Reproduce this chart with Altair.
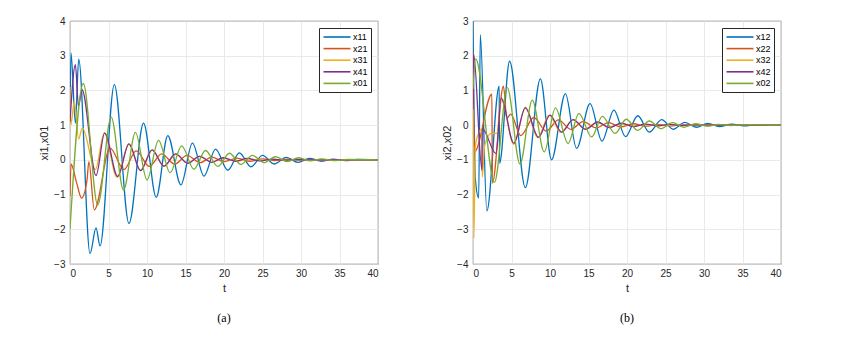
import altair as alt
import pandas as pd

# ---------------- Panel (a) : xi1, x01 ----------------
X11_T = [0, 0.13, 0.7, 1.13, 2.6, 3.38, 3.9, 5.76, 7.66, 9.55, 11.2, 12.7, 14.4, 15.9, 17.4, 18.9, 20.5, 22.0, 23.5, 25.0, 26.5, 28.1, 29.6, 31.1, 32.7, 34.2, 35.8, 37.3, 40]
X11_V = [1.2, 3.08, 1.06, 2.9, -2.7, -1.96, -2.48, 2.17, -1.83, 1.06, -1.08, 0.7, -0.72, 0.48, -0.47, 0.31, -0.3, 0.2, -0.2, 0.13, -0.12, 0.07, -0.07, 0.04, -0.04, 0.02, -0.02, 0.01, 0]

X21_T = [0, 0.13, 0.87, 1.5, 2.2, 2.45, 3.16, 5.2, 7.0, 8.6, 10.3, 11.9, 13.6, 15.2, 16.9, 18.4, 20.0, 21.7, 23.3, 25.0, 26.6, 28.3, 30.0, 31.6, 33.3, 35.0, 40]
X21_V = [-1.05, -0.12, -0.67, -1.1, -0.6, -0.05, -1.44, 0.34, -0.28, 0.26, -0.19, 0.17, -0.12, 0.13, -0.08, 0.08, -0.05, 0.05, -0.04, 0.03, -0.02, 0.02, -0.01, 0.01, -0.01, 0, 0]

X31_T = [0, 0.1, 0.56, 1.13, 1.6, 3.3, 4.45, 6.1, 7.65, 9.2, 10.7, 12.2, 13.8, 15.3, 16.9, 18.4, 20.0, 21.6, 23.2, 24.8, 26.4, 28.0, 30.0, 32.0, 40]
X31_V = [2.1, 1.0, 1.68, 0.6, 0.92, -0.28, 0.78, -0.5, 0.45, -0.31, 0.28, -0.18, 0.16, -0.1, 0.1, -0.07, 0.05, -0.04, 0.03, -0.02, 0.02, -0.01, 0.01, 0, 0]

X41_T = [0, 0.7, 1.1, 1.56, 3.38, 4.5, 6.2, 7.65, 9.15, 10.65, 12.2, 13.7, 15.3, 16.8, 18.4, 19.9, 21.5, 23.0, 24.6, 26.2, 27.8, 29.4, 31.0, 33.0, 40]
X41_V = [1.1, 2.74, 1.55, 2.02, -0.45, 0.77, -0.48, 0.46, -0.31, 0.29, -0.18, 0.17, -0.1, 0.1, -0.07, 0.06, -0.04, 0.04, -0.03, 0.02, -0.01, 0.01, 0, 0, 0]

X01_T = [0, 1.73, 3.6, 5.35, 6.95, 8.5, 10.0, 11.5, 13.0, 14.5, 16.1, 17.6, 19.2, 20.7, 22.2, 23.7, 25.2, 26.7, 28.2, 29.7, 31.2, 32.7, 34.2, 36.0, 40]
X01_V = [-2.0, 2.2, -1.3, 1.23, -0.87, 0.79, -0.58, 0.56, -0.37, 0.4, -0.27, 0.27, -0.19, 0.19, -0.13, 0.13, -0.08, 0.09, -0.05, 0.06, -0.03, 0.03, -0.02, 0.01, 0]

# ---------------- Panel (b) : xi2, x02 ----------------
X12_T = [0, 0.3, 0.74, 0.95, 1.8, 3.4, 3.45, 4.75, 6.8, 8.75, 10.2, 12.0, 13.45, 15.2, 16.75, 18.3, 19.8, 21.4, 22.9, 24.5, 26.0, 27.5, 29.0, 30.5, 32.0, 33.6, 35.2, 36.8, 40]
X12_V = [3.0, -1.53, -2.1, 2.6, -2.47, 1.12, -1.1, 1.84, -1.8, 1.33, -1.0, 0.91, -0.67, 0.62, -0.46, 0.43, -0.33, 0.27, -0.2, 0.16, -0.12, 0.08, -0.06, 0.05, -0.04, 0.03, -0.02, 0.01, 0]

X22_T = [0, 0.2, 2.45, 2.52, 3.95, 4.4, 4.9, 6.2, 7.9, 9.5, 11.1, 12.7, 14.3, 16.0, 17.6, 19.2, 20.8, 22.4, 24.0, 25.6, 27.2, 28.8, 30.5, 32.0, 34.0, 40]
X22_V = [2.1, -0.77, 0.89, -1.67, 1.12, 0.2, 0.32, -0.3, 0.22, -0.17, 0.15, -0.12, 0.1, -0.08, 0.07, -0.05, 0.04, -0.03, 0.02, -0.02, 0.01, -0.01, 0.01, 0, 0, 0]

X32_T = [0, 0.12, 0.3, 0.8, 1.15, 1.2, 1.5, 2.4, 3.1, 3.65, 5.3, 6.8, 8.4, 9.9, 11.4, 13.0, 14.5, 16.1, 17.6, 19.2, 20.8, 22.3, 24.0, 26.0, 28.0, 40]
X32_V = [0.6, -3.25, -0.6, -0.2, -0.1, -1.5, -0.6, -0.24, -0.24, 0.75, -0.55, 0.52, -0.36, 0.29, -0.21, 0.15, -0.11, 0.08, -0.06, 0.04, -0.03, 0.02, -0.01, 0, 0, 0]

X42_T = [0, 0.08, 1.17, 1.2, 3.0, 3.65, 5.3, 6.8, 8.5, 10.0, 11.5, 13.0, 14.6, 16.2, 17.7, 19.3, 20.8, 22.4, 24.0, 25.5, 27.0, 28.6, 30.2, 32.0, 34.0, 40]
X42_V = [0.45, 2.05, -1.3, -0.1, -0.82, 0.78, -0.52, 0.5, -0.35, 0.29, -0.2, 0.16, -0.12, 0.09, -0.07, 0.06, -0.04, 0.03, -0.02, 0.02, -0.01, 0.01, 0, 0, 0, 0]

X02_T = [0, 0.35, 2.8, 4.45, 6.1, 7.7, 9.25, 10.7, 12.35, 13.75, 15.4, 16.8, 18.45, 19.9, 21.4, 22.9, 24.4, 25.9, 27.4, 28.9, 30.4, 31.9, 33.5, 35.0, 40]
X02_V = [1.05, 1.91, -1.64, 1.08, -1.12, 0.72, -0.77, 0.5, -0.53, 0.34, -0.34, 0.25, -0.24, 0.17, -0.15, 0.12, -0.1, 0.07, -0.06, 0.04, -0.03, 0.02, -0.01, 0.01, 0]

SERIES_A = ["x11", "x21", "x31", "x41", "x01"]
SERIES_B = ["x12", "x22", "x32", "x42", "x02"]
COLORS = ["#0072BD", "#D95319", "#EDB120", "#7E2F8E", "#77AC30"]
X_TICKS = [0, 5, 10, 15, 20, 25, 30, 35, 40]
Y_TICKS_A = [-3, -2, -1, 0, 1, 2, 3, 4]
Y_TICKS_B = [-4, -3, -2, -1, 0, 1, 2, 3]


def frame(names, pairs):
    rows = []
    for name, (ts, vs) in zip(names, pairs):
        for t, v in zip(ts, vs):
            rows.append({"t": t, "v": v, "series": name})
    return pd.DataFrame(rows)


df_a = frame(SERIES_A, [(X11_T, X11_V), (X21_T, X21_V), (X31_T, X31_V), (X41_T, X41_V), (X01_T, X01_V)])
df_b = frame(SERIES_B, [(X12_T, X12_V), (X22_T, X22_V), (X32_T, X32_V), (X42_T, X42_V), (X02_T, X02_V)])

FONT = "Liberation Sans"
LEG_SYMBOL = "M-2.7,0L2.7,0"


def panel(df, names, ytitle, ydom, yticks, caption):
    return alt.Chart(df).mark_line(interpolate="monotone", strokeWidth=1.3, clip=True).encode(
        x=alt.X("t:Q", scale=alt.Scale(domain=[0, 40], nice=False, zero=False),
                axis=alt.Axis(values=X_TICKS, title="t", format="d")),
        y=alt.Y("v:Q", scale=alt.Scale(domain=ydom, nice=False, zero=False),
                axis=alt.Axis(values=yticks, title=ytitle, format="d")),
        color=alt.Color("series:N", sort=names,
                        scale=alt.Scale(domain=names, range=COLORS),
                        legend=alt.Legend(title=None, orient="top-right", offset=7,
                                          symbolType=LEG_SYMBOL, symbolSize=100,
                                          symbolStrokeWidth=1.6, symbolOffset=9,
                                          labelFont=FONT, labelFontSize=9, labelColor="#000000",
                                          strokeColor="#262626", fillColor="#ffffff",
                                          padding=3, rowPadding=0.6, labelOffset=10)),
        detail="series:N",
    ).properties(
        width=308, height=243,
        title=alt.TitleParams(caption, orient="bottom", font="Liberation Serif",
                              fontSize=12, fontWeight="normal", color="#000000", offset=20),
    )


pa = panel(df_a, SERIES_A, "xi1,x01", [-3, 4], Y_TICKS_A, "(a)")
pb = panel(df_b, SERIES_B, "xi2,x02", [-4, 3], Y_TICKS_B, "(b)")

chart = alt.hconcat(pa, pb, spacing=62).resolve_scale(color="independent").resolve_legend(
    color="independent"
).properties(
    padding={"left": 30, "top": 7, "right": 5, "bottom": 5}
).configure_view(
    stroke="#262626", strokeWidth=0.8
).configure_axis(
    grid=True, gridColor="#e4e4e4", gridWidth=0.8,
    domain=False, ticks=False,
    labelFont=FONT, labelFontSize=10, labelColor="#262626",
    titleFont=FONT, titleFontSize=11, titleFontWeight="normal", titleColor="#262626",
).configure_axisX(labelPadding=4, titlePadding=4).configure_axisY(labelPadding=5, titlePadding=4)

chart.save("out.html", embed_options={"renderer": "svg", "actions": False})
